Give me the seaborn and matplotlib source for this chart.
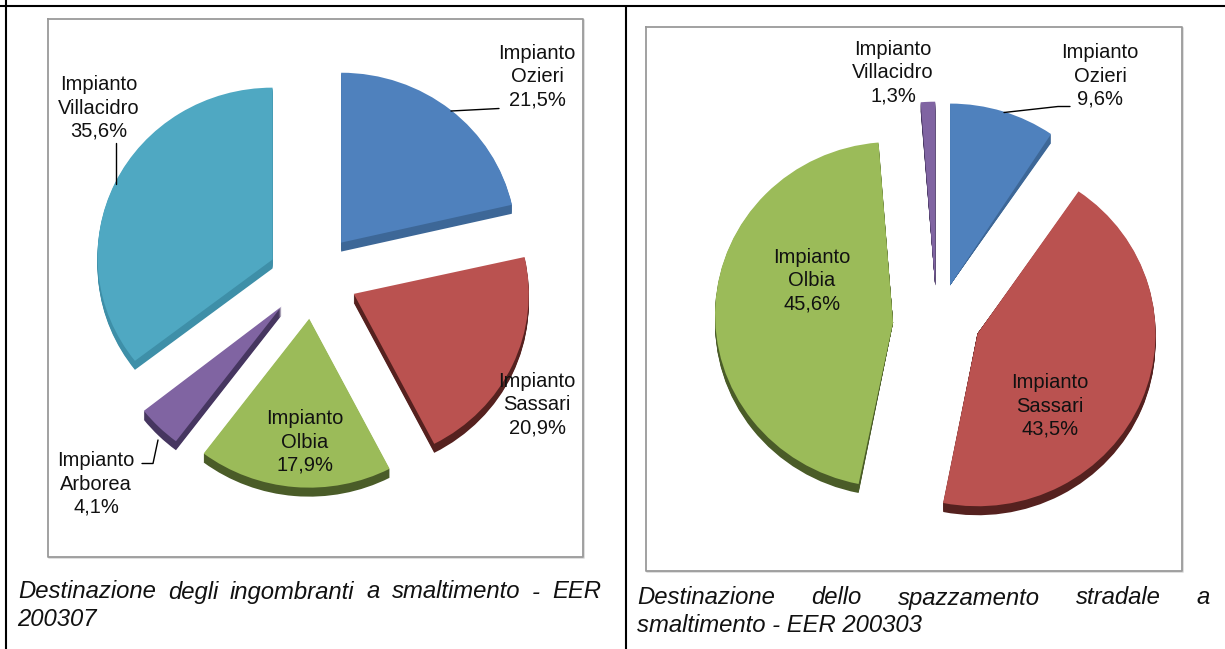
import matplotlib
matplotlib.use('Agg')
import matplotlib.pyplot as plt
import numpy as np
import seaborn as sns

# dati
nomi_sx = ['Impianto\nOzieri', 'Impianto\nSassari', 'Impianto\nOlbia', 'Impianto\nArborea', 'Impianto\nVillacidro']
valori_sx = [21.5, 20.9, 17.9, 4.1, 35.6]
nomi_dx = ['Impianto\nOzieri', 'Impianto\nSassari', 'Impianto\nOlbia', 'Impianto\nVillacidro']
valori_dx = [9.6, 43.5, 45.6, 1.3]

didascalia_sx = ['Destinazione degli ingombranti a smaltimento - EER', '200307']
didascalia_dx = ['Destinazione dello spazzamento stradale a', 'smaltimento - EER 200303']

# colori
blu, rosso, verde, viola, azzurro = sns.color_palette(['#4F81BD', '#BA5250', '#9BBB59', '#8064A2', '#4FA8C2'])
blu_s, rosso_s, verde_s, viola_s, azzurro_s = sns.color_palette(['#3D6797', '#55211F', '#4A5C28', '#463660', '#3E8FA8'])

sns.set_theme(style='white')
plt.rcParams['font.family'] = ['Liberation Sans', 'DejaVu Sans']

W, H = 1225, 649
fig = plt.figure(figsize=(W / 100, H / 100), dpi=100, facecolor='white')


def abbassa_vertice(ws, abbassa, k):
    # la prospettiva sposta in basso il vertice di alcune fette
    for w, n in zip(ws, abbassa):
        p = w.get_path()
        m = np.all(np.isclose(p.vertices, w.center), axis=1)
        p.vertices[m, 1] -= n / k


def torta(valori, colori, lati, cx, cy, r, k, esplosione, abbassa, spessore, lato_al_vertice):
    ax = fig.add_axes([0, 0, 1, 1], zorder=1)
    # lato 3D: copie scure spostate verso il basso
    for d in range(spessore, 0, -1):
        ws, _ = ax.pie(valori, colors=lati, radius=r, explode=[esplosione] * len(valori),
                       startangle=90, counterclock=False, center=(0, -d / k),
                       wedgeprops={'linewidth': 0})
        if lato_al_vertice:
            abbassa_vertice(ws, abbassa, k)
        else:
            abbassa_vertice(ws, [n - d for n in abbassa], k)
    ws, _ = ax.pie(valori, colors=colori, radius=r, explode=[esplosione] * len(valori),
                   startangle=90, counterclock=False, center=(0, 0),
                   wedgeprops={'linewidth': 0})
    abbassa_vertice(ws, abbassa, k)
    ax.set_aspect('auto')
    ax.set_xlim(-cx, W - cx)
    ax.set_ylim((cy - H) / k, cy / k)
    ax.patch.set_alpha(0)
    ax.axis('off')


torta(valori_sx, [blu, rosso, verde, viola, azzurro], [blu_s, rosso_s, verde_s, viola_s, azzurro_s],
      313, 275.5, 175, 0.965, 45, [1, 0, 0, 0, 3], 9, True)
torta(valori_dx, [blu, rosso, verde, viola], [blu_s, rosso_s, verde_s, viola_s],
      937, 317, 178, 0.97, 44, [9, 0, 8, 11], 9, False)

# assi in pixel per cornici, testi e linee guida
ov = fig.add_axes([0, 0, 1, 1], zorder=3)
ov.set_xlim(0, W)
ov.set_ylim(H, 0)
ov.axis('off')

# griglia della tabella
for xs, ys in [([0, W], [6, 6]), ([6, 6], [0, H]), ([626, 626], [6, H])]:
    ov.plot(xs, ys, color='black', lw=1.5, solid_capstyle='butt')

# cornici dei grafici
for x0, y0, x1, y1 in [(48, 19, 583, 557), (646, 27, 1182, 571)]:
    ov.plot([x0 + 1, x1 + 1, x1 + 1], [y1 + 1, y1 + 1, y0 + 1], color='#d9d9d9', lw=1.2)
    ov.plot([x0, x1, x1, x0, x0], [y0, y0, y1, y1, y0], color='#9a9a9a', lw=1.3)


def etichetta(x, y, nome, valore):
    testo = nome + '\n' + f'{valore:.1f}%'.replace('.', ',')
    ov.text(x, y, testo, ha='center', va='center', ma='center', fontsize=14.5,
            linespacing=1.27, color='#111111')


for x, y, n, v in zip([537, 537, 305, 96, 99], [77, 405, 442, 484, 108], nomi_sx, valori_sx):
    etichetta(x, y, n, v)
for x, y, n, v in zip([1100, 1050, 812, 893], [76, 406, 281, 73], nomi_dx, valori_dx):
    etichetta(x, y, n, v)

# linee guida
for xs, ys in [([451, 499], [111, 108.5]), ([116, 116], [143, 184]),
               ([142, 153, 158], [463.5, 463.5, 440]), ([1004, 1058, 1070], [112.5, 106.5, 106.5])]:
    ov.plot(xs, ys, color='black', lw=1)


def riga_giustificata(riga, x0, x1, y):
    parole = riga.split(' ')
    oggetti = [ov.text(x0, y, p, fontsize=17.2, style='italic', va='center', ha='left', color='#111111')
                for p in parole]
    rend = fig.canvas.get_renderer()
    larghezze = [t.get_window_extent(rend).width for t in oggetti]
    spazio = (x1 - x0 - sum(larghezze)) / (len(parole) - 1)
    x = x0
    for t, l in zip(oggetti, larghezze):
        t.set_x(x)
        x += l + spazio


riga_giustificata(didascalia_sx[0], 18, 601, 592)
ov.text(17, 620, didascalia_sx[1], fontsize=17.2, style='italic', va='center', color='#111111')
riga_giustificata(didascalia_dx[0], 637, 1210, 598)
ov.text(637, 626, didascalia_dx[1], fontsize=17.2, style='italic', va='center', color='#111111')

fig.savefig('out.png', dpi=100, facecolor='white')
